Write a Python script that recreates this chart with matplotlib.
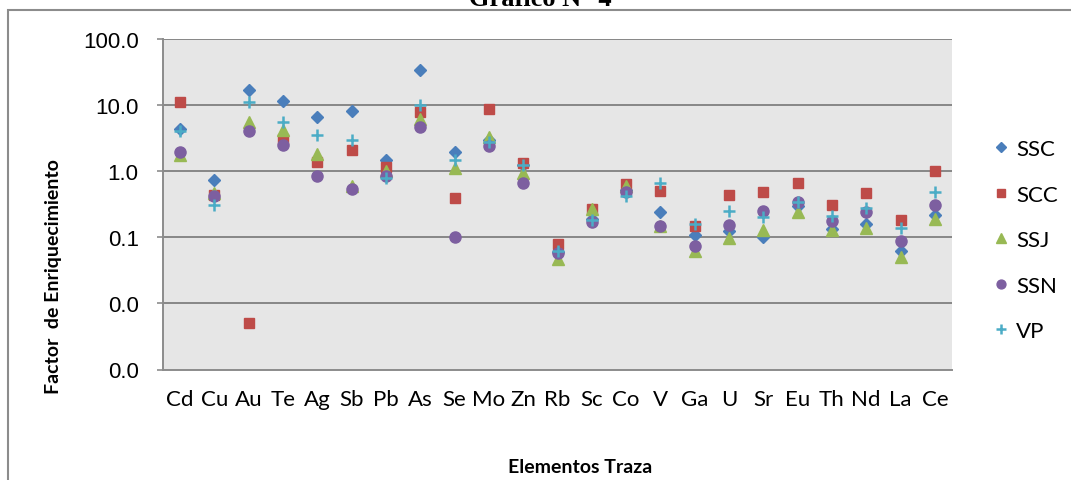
import matplotlib
matplotlib.use("Agg")
import matplotlib.pyplot as plt
from matplotlib.patches import Rectangle

# Elementos traza y factores de enriquecimiento
elementos = ["Cd", "Cu", "Au", "Te", "Ag", "Sb", "Pb", "As", "Se", "Mo", "Zn", "Rb",
             "Sc", "Co", "V", "Ga", "U", "Sr", "Eu", "Th", "Nd", "La", "Ce"]
ssc = [4.3, 0.73, 16.9, 11.5, 6.5, 8.1, 1.48, 34, 1.92, 2.95, 1.25, 0.06,
       0.19, 0.52, 0.24, 0.107, 0.124, 0.1, 0.3, 0.135, 0.16, 0.063, 0.22]
scc = [11, 0.44, 0.005, 3.1, 1.4, 2.1, 1.16, 7.9, 0.40, 8.7, 1.32, 0.078,
       0.27, 0.63, 0.51, 0.148, 0.44, 0.48, 0.66, 0.31, 0.47, 0.18, 1.0]
ssj = [1.75, 0.47, 5.6, 4.2, 1.8, 0.6, 1.0, 6.2, 1.1, 3.25, 0.93, 0.047,
       0.27, 0.6, 0.148, 0.062, 0.097, 0.13, 0.245, 0.13, 0.14, 0.05, 0.19]
ssn = [1.92, 0.42, 4.1, 2.5, 0.85, 0.54, 0.85, 4.6, 0.1, 2.4, 0.67, 0.058,
       0.173, 0.48, 0.15, 0.074, 0.155, 0.25, 0.34, 0.175, 0.24, 0.087, 0.31]
vp = [4.1, 0.31, 11, 5.5, 3.5, 2.95, 0.78, 10, 1.47, 2.75, 1.23, 0.062,
      0.18, 0.42, 0.66, 0.16, 0.25, 0.2, 0.34, 0.21, 0.28, 0.14, 0.48]
yticks = [0.001, 0.01, 0.1, 1, 10, 100]

W, H = 1071, 481
fig = plt.figure(figsize=(W / 100, H / 100), dpi=100)
ax = fig.add_axes([163 / W, 1 - 370.5 / H, (952 - 163) / W, (370.5 - 40) / H])
ax.set_facecolor("#e6e6e6")

# borde del area del grafico
fig.patches.append(Rectangle((8 / W, -0.1), 1.2, 1 - 11 / H + 0.1, transform=fig.transFigure,
                             fill=False, edgecolor="#8c8c8c", linewidth=1.5))

x = list(range(len(elementos)))
ax.plot(x, ssc, "D", color="#4a7ebb", ms=6.5, mec="#4a7ebb", label="SSC", zorder=3)
ax.plot(x, scc, "s", color="#be4b48", ms=7.5, mec="#be4b48", label="SCC", zorder=4)
ax.plot(x, ssj, "^", color="#98b954", ms=8.5, mec="#98b954", label="SSJ", zorder=5)
ax.plot(x, ssn, "o", color="#7d5fa0", ms=8, mec="#7d5fa0", label="SSN", zorder=6)
ax.plot(x, vp, "+", color="#4bacc6", ms=9, mew=1.8, label="VP", zorder=7)

ax.set_yscale("log")
ax.set_ylim(0.001, 100)
ax.set_xlim(-0.5, len(elementos) - 0.5)
ax.set_yticks(yticks)
ax.set_yticklabels(["%.1f" % v for v in yticks], fontfamily="Liberation Sans", fontsize=16)
ax.minorticks_off()
ax.set_xticks(x)
ax.set_xticklabels(elementos, fontfamily="Lato", fontsize=16)
ax.tick_params(axis="x", length=0, pad=14)
ax.tick_params(axis="y", length=4.5, color="#8c8c8c", width=1.2, pad=13)
for v in yticks[1:]:
    ax.axhline(v, color="#878787", lw=1.4, zorder=1)
for s in ["top", "right"]:
    ax.spines[s].set_visible(False)
ax.spines["left"].set_color("#8c8c8c")
ax.spines["bottom"].set_color("#8c8c8c")
ax.spines["left"].set_linewidth(1.4)
ax.spines["bottom"].set_linewidth(1.4)

fig.text(54 / W, 1 - 277 / H, "Factor  de Enriquecimiento", rotation=90, ha="center", va="center",
         fontfamily="Lato", fontweight="bold", fontsize=14)
fig.text(580 / W, 1 - 468 / H, "Elementos Traza", ha="center", va="center",
         fontfamily="Lato", fontweight="bold", fontsize=14)
fig.text(540 / W, 1 - 6 / H, "Gráfico N° 4", ha="center", va="baseline",
         fontfamily="Liberation Serif", fontweight="bold", fontsize=19)

fig.legend(loc="upper left", bbox_to_anchor=(994 / W, 1 - 140 / H), frameon=False,
           prop={"family": "Lato", "size": 16}, handlelength=0.6, handletextpad=0.4,
           labelspacing=1.15, borderpad=0, borderaxespad=0, markerscale=0.8)

fig.savefig("out.png", dpi=100)
